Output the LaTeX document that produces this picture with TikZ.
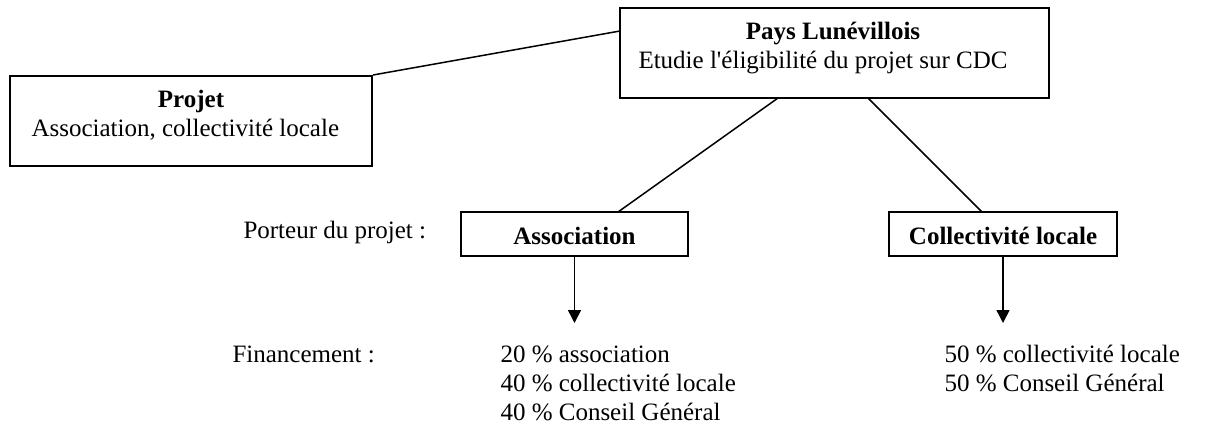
\documentclass[tikz,border=0pt]{standalone}
\usepackage{fontspec}
\setmainfont{Liberation Serif}[Ligatures=TeXOff]
\usetikzlibrary{arrows.meta,fit,calc}
\begin{document}
\begin{tikzpicture}[x=0.4pt,y=-0.4pt,
  box/.style={draw, line width=0.8pt, inner sep=0pt},
  lbl/.style={inner sep=0pt, font=\fontsize{10}{11.6}\selectfont},
  conn/.style={line width=0.6pt},
  arr/.style={line width=0.6pt, -{Triangle[width=5.2pt,length=5.2pt]}}]
\useasboundingbox (0,0) rectangle (1210,434);
% boxes
\node[box, fit={(10,76) (372,166)}] (projet) {};
\node[box, fit={(620,8) (1049,98)}] (pays) {};
\node[box, fit={(461,212) (688,256)}] (assoc) {};
\node[box, fit={(889,212) (1117,256)}] (coll) {};
% box texts
\node[lbl] (projetT) at (191,101) {\textbf{Projet}};
\node[lbl, anchor=west] (projetS) at (31,130) {Association, collectivité locale};
\node[lbl] (paysT) at (833,34) {\textbf{Pays Lunévillois}};
\node[lbl, anchor=west] (paysS) at (638,63) {Etudie l'éligibilité du projet sur CDC};
\node[lbl] (assocT) at (574.5,236) {\textbf{Association}};
\node[lbl] (collT) at (1003,236) {\textbf{Collectivité locale}};
% side labels
\node[lbl, anchor=west] (porteur) at (243,232) {Porteur du projet :};
\node[lbl, anchor=west] (fin) at (232,354) {Financement :};
\node[lbl, anchor=west] (a1) at (500,354) {20 \% association};
\node[lbl, anchor=west] (a2) at (500,383) {40 \% collectivité locale};
\node[lbl, anchor=west] (a3) at (500,412) {40 \% Conseil Général};
\node[lbl, anchor=west] (c1) at (944,354) {50 \% collectivité locale};
\node[lbl, anchor=west] (c2) at (944,383) {50 \% Conseil Général};
% connectors
\coordinate (paysL) at (620,31);
\coordinate (paysB1) at (778,98);
\coordinate (paysB2) at (868,98);
\coordinate (assocTop) at (618,212);
\coordinate (collTop) at (982,212);
\coordinate (arrA) at (574.5,323);
\coordinate (arrC) at (1003,323);
\draw[conn] (projet.north east) -- (paysL);
\draw[conn] (paysB1) -- (assocTop);
\draw[conn] (paysB2) -- (collTop);
\draw[arr] (assoc.south) -- (arrA);
\draw[arr] (coll.south) -- (arrC);
\end{tikzpicture}
\end{document}
